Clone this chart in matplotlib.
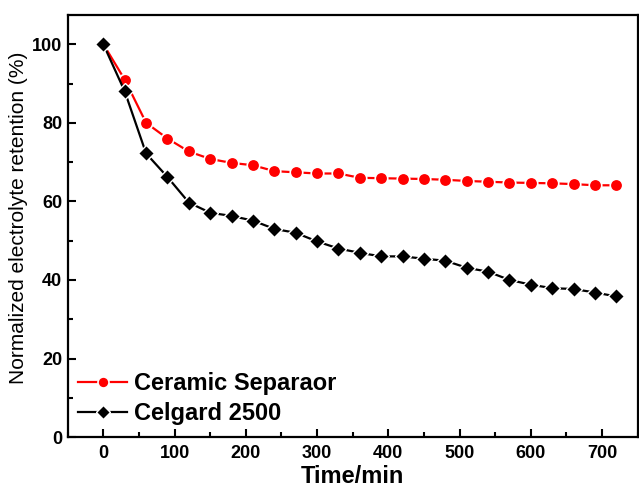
import matplotlib
matplotlib.use("Agg")
import matplotlib.pyplot as plt
from matplotlib.ticker import MultipleLocator

plt.rcParams['font.family'] = ['Liberation Sans', 'DejaVu Sans']

time_min = [0, 30, 60, 90, 120, 150, 180, 210, 240, 270, 300, 330, 360, 390,
            420, 450, 480, 510, 540, 570, 600, 630, 660, 690, 720]
ceramic = [100, 91.0, 80.0, 76.0, 72.7, 70.8, 69.8, 69.2, 67.7, 67.4, 67.1, 67.1,
           66.0, 65.9, 65.8, 65.7, 65.5, 65.2, 65.0, 64.8, 64.7, 64.6, 64.4, 64.1, 64.1]
celgard = [100, 88.0, 72.2, 66.2, 59.7, 57.1, 56.3, 55.1, 53.0, 52.0, 49.8, 48.0,
           46.9, 46.0, 46.0, 45.4, 44.9, 43.1, 42.1, 40.0, 38.8, 37.9, 37.7, 36.8, 35.8]

fig = plt.figure(figsize=(6.39, 4.90), dpi=100)
ax = fig.add_axes([0.106, 0.108, 0.892, 0.861])

ax.plot(time_min, ceramic, color='red', lw=1.6, marker='o', markersize=9,
        markerfacecolor='red', markeredgecolor='white', markeredgewidth=1.2,
        label='Ceramic Separaor', zorder=3)
ax.plot(time_min, celgard, color='black', lw=1.6, marker='D', markersize=8,
        markerfacecolor='black', markeredgecolor='white', markeredgewidth=1.0,
        label='Celgard 2500', zorder=4)

ax.set_xlim(-50, 750)
ax.set_ylim(0, 107.4)
ax.xaxis.set_major_locator(MultipleLocator(100))
ax.xaxis.set_minor_locator(MultipleLocator(50))
ax.yaxis.set_major_locator(MultipleLocator(20))
ax.yaxis.set_minor_locator(MultipleLocator(10))
ax.tick_params(which='both', direction='in', width=1.5, labelsize=13)
ax.tick_params(which='major', length=6)
ax.tick_params(which='minor', length=3.5)
ax.tick_params(axis='x', pad=6)
ax.tick_params(axis='y', pad=4)
ax.tick_params(top=False, right=False)
for lab in ax.get_xticklabels() + ax.get_yticklabels():
    lab.set_fontweight('bold')
for sp in ax.spines.values():
    sp.set_linewidth(1.6)

ax.set_xlabel('Time/min', fontsize=17, fontweight='bold', labelpad=2)
ax.set_ylabel('Normalized electrolyte retention (%)', fontsize=15, labelpad=3)
ax.yaxis.set_label_coords(-0.07, 0.52)

leg = ax.legend(loc='lower left', frameon=False,
                prop={'weight': 'bold', 'size': 17}, handlelength=2.1,
                borderpad=0, borderaxespad=0, labelspacing=0.3,
                handletextpad=0.3, markerscale=0.88,
                bbox_to_anchor=(0.0175, 0.028))

fig.savefig('out.png', dpi=100)
